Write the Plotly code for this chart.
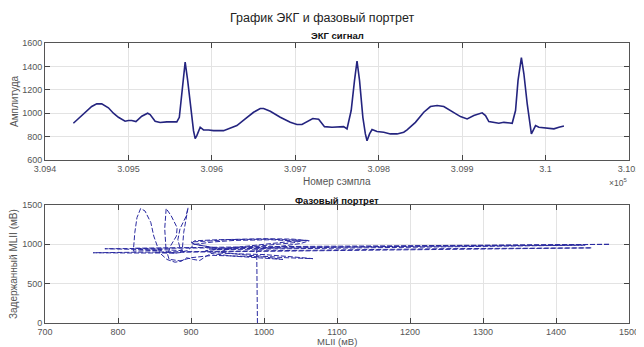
import plotly.graph_objects as go

# ECG signal (sample index, amplitude)
ecg_sample = [309434, 309442, 309448, 309456, 309462, 309468, 309476, 309482, 309488, 309496,
              309500, 309504, 309509, 309516, 309523, 309526, 309532, 309538, 309546, 309558,
              309561, 309565, 309568, 309571, 309575, 309578, 309580, 309582, 309586, 309590,
              309596, 309602, 309614, 309622, 309630, 309640, 309650, 309658, 309662, 309670,
              309682, 309694, 309702, 309708, 309716, 309721, 309728, 309735, 309744, 309758,
              309762, 309767, 309771, 309774, 309777, 309781, 309784, 309786, 309789, 309792,
              309798, 309806, 309814, 309822, 309830, 309834, 309844, 309854, 309862, 309870,
              309878, 309888, 309898, 309906, 309914, 309924, 309928, 309932, 309944, 309950,
              309960, 309964, 309967, 309971, 309974, 309978, 309981, 309983, 309985, 309988,
              309992, 310002, 310010, 310016, 310022]
ecg_value = [914, 965, 1000, 1057, 1080, 1080, 1046, 1000, 965, 931,
             937, 937, 928, 974, 1000, 988, 931, 920, 926, 926,
             965, 1252, 1437, 1280, 1023, 851, 782, 808, 880, 857,
             857, 851, 851, 874, 894, 951, 1008, 1040, 1040, 1017,
             965, 922, 903, 903, 937, 954, 948, 885, 880, 885,
             866, 1023, 1280, 1446, 1280, 965, 823, 765, 823, 860,
             843, 837, 823, 823, 837, 857, 922, 1008, 1057, 1066,
             1057, 1017, 971, 951, 980, 1003, 980, 928, 914, 922,
             914, 1023, 1280, 1475, 1337, 1080, 894, 823, 851, 894,
             880, 874, 866, 880, 891]

# Phase portrait path (MLII, delayed MLII)
phase_x = [991, 990,
           1015, 1050, 1062, 1040, 1000, 955, 920, 900, 905, 925, 940, 930,
           1180, 1440, 1200, 980, 782, 830, 860, 821,
           823, 826, 831, 837, 845, 849, 854, 857, 867, 878, 887, 894, 903, 912, 921, 930,
           960, 1000, 1040, 1067, 1030, 980, 940, 950, 1000, 1040, 1050, 1010, 960, 930, 905, 900, 895, 885,
           1200, 1449, 1250, 1000, 766, 820, 880, 866,
           864, 866, 873, 881, 880, 872, 868, 870, 885, 900, 930, 960,
           1000, 1026, 990, 958, 930, 920, 960, 1000, 1040, 1060, 1005, 940, 905, 900, 920, 935, 925,
           1200, 1474, 1200, 1000, 823, 850, 870, 888,
           890, 896, 893, 885, 882, 885, 890, 880, 850]
phase_y = [0, 935,
           965, 1010, 1045, 1066, 1072, 1062, 1040, 1030, 1000, 965, 945, 932,
           962, 990, 975, 955, 944, 935, 925, 914,
           1148, 1340, 1455, 1424, 1276, 1105, 977, 893, 808, 773, 786, 829, 808, 795, 850, 893,
           880, 870, 840, 818, 830, 860, 900, 940, 985, 1020, 1040, 1058, 1050, 1030, 1000, 960, 920, 900,
           930, 955, 945, 915, 893, 890, 890, 900,
           1200, 1455, 1360, 1212, 1105, 980, 870, 810, 790, 830, 860, 850,
           840, 808, 830, 850, 880, 920, 960, 1000, 1040, 1050, 1065, 1060, 1045, 1010, 975, 950, 940,
           975, 1000, 985, 970, 950, 935, 925, 920,
           1150, 1467, 1350, 1200, 1060, 950, 900, 890, 900]

top_ticks = [309400, 309500, 309600, 309700, 309800, 309900, 310000, 310100]
top_tick_text = ["3.094", "3.095", "3.096", "3.097", "3.098", "3.099", "3.1", "3.101"]
top_y_ticks = [600, 800, 1000, 1200, 1400, 1600]
bot_x_ticks = [700, 800, 900, 1000, 1100, 1200, 1300, 1400, 1500]
bot_y_ticks = [0, 500, 1000, 1500]

W, H = 644, 347
OFF = 8  # page body margin
FONT = "Liberation Sans, Arial, sans-serif"

def fx(x):
    return (x - OFF) / W

def fy(y):
    return 1 - (y - OFF) / H

fig = go.Figure()
fig.add_trace(go.Scatter(x=ecg_sample, y=ecg_value, mode="lines",
                         line=dict(color="#24247f", width=1.6), xaxis="x", yaxis="y",
                         showlegend=False))
fig.add_trace(go.Scatter(x=phase_x, y=phase_y, mode="lines",
                         line=dict(color="#2a2aa0", width=1, dash="5px,2px"),
                         xaxis="x2", yaxis="y2", showlegend=False))

axis_common = dict(showline=True, linecolor="#555555", linewidth=1, mirror="ticks",
                   ticks="inside", ticklen=5, tickcolor="#444444", automargin=False,
                   showgrid=True, gridcolor="#e3e3e3", gridwidth=1, zeroline=False,
                   tickfont=dict(family=FONT, size=9, color="#555555"))

fig.update_layout(
    template="none",
    width=W, height=H, margin=dict(l=0, r=0, t=0, b=0, pad=0), autosize=False,
    paper_bgcolor="white", plot_bgcolor="white",
    xaxis=dict(domain=[fx(45), fx(629)], range=[309400, 310100], tickvals=top_ticks,
               ticktext=top_tick_text, anchor="y", **axis_common),
    yaxis=dict(domain=[fy(160), fy(43)], range=[600, 1600], tickvals=top_y_ticks,
               anchor="x", **axis_common),
    xaxis2=dict(domain=[fx(45), fx(629)], range=[700, 1500], tickvals=bot_x_ticks,
                anchor="y2", **axis_common),
    yaxis2=dict(domain=[fy(323), fy(205)], range=[0, 1500], tickvals=bot_y_ticks,
                anchor="x2", **axis_common),
)

def txt(x, y, s, size, color="#333333", angle=0, xanchor="center"):
    fig.add_annotation(x=fx(x), y=fy(y), xref="paper", yref="paper", text=s,
                       showarrow=False, textangle=angle, xanchor=xanchor, yanchor="middle",
                       font=dict(family=FONT, size=size, color=color))

txt(322, 18, "График ЭКГ и фазовый портрет", 12.5, "#222222")
txt(337, 36, "<b>ЭКГ сигнал</b>", 9.5, "#111111")
txt(337, 200, "<b>Фазовый портрет</b>", 9.5, "#111111")
txt(337, 181, "Номер сэмпла", 10, "#555555")
txt(337, 341, "MLII (мВ)", 9.5, "#555555")
txt(14, 101, "Амплитуда", 10, "#555555", angle=-90)
txt(14, 264, "Задержанный MLII (мВ)", 10, "#555555", angle=-90)
txt(618, 182, "×10<sup>5</sup>", 8.5, "#555555")

fig.write_html("out.html")
